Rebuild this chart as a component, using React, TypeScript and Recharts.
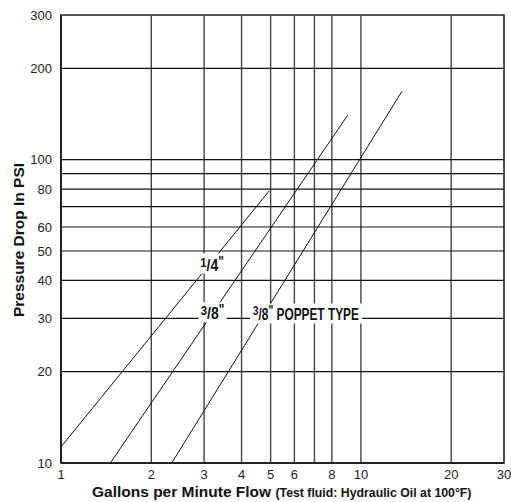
import React from 'react';
import { LineChart, Line, XAxis, YAxis, ReferenceLine, ReferenceArea, ReferenceDot, Label } from 'recharts';

// log-log pressure drop curves
const quarterInch = [
  { x: 1, y: 11.3 },
  { x: 4.95, y: 79 },
];
const threeEighths = [
  { x: 1.46, y: 10 },
  { x: 9.03, y: 140 },
];
const poppet = [
  { x: 2.34, y: 10 },
  { x: 13.7, y: 168 },
];

const xTicks = [1, 2, 3, 4, 5, 6, 8, 10, 20, 30];
const yTicks = [10, 20, 30, 40, 50, 60, 80, 100, 200, 300];
const xGrid = [2, 3, 4, 5, 6, 7, 8, 10, 20];
const yGrid = [20, 30, 40, 50, 60, 70, 80, 90, 100, 200];

const TICK_FONT = "'Liberation Sans Narrow', 'Arial Narrow', 'Liberation Sans', Arial, sans-serif";
const TITLE_FONT = "'Liberation Sans', Arial, sans-serif";

// white-backed curve label: superscript numerator, /denominator, inch mark, then optional text
const makeLabel = (num: string, den: string, rest: string, boxW: number, sx: number, base: number) => (props: any) => {
  const { cx, cy } = props;
  return (
    <g>
      <rect x={cx - boxW / 2} y={cy - 10} width={boxW} height={20} fill="#fff" />
      <g transform={`translate(${cx} ${cy + base}) scale(${sx} 1)`}>
        <text x={0} y={0} textAnchor="middle" fontFamily={TITLE_FONT} fontWeight="bold" fontSize={16.5} fill="#111">
          <tspan dy={-4.5} fontSize={13.5}>{num}</tspan>
          <tspan dy={4.5}>/{den}</tspan>
          <tspan dy={-5} fontSize={14}>"</tspan>
          {rest ? <tspan dy={5}>{rest}</tspan> : null}
        </text>
      </g>
    </g>
  );
};

const App = () => (
  <div style={{ position: 'absolute', left: 0, top: 0 }}>
    <LineChart width={511} height={502} margin={{ top: 15, right: 7, bottom: 0, left: 0 }}>
      <XAxis
        type="number"
        dataKey="x"
        scale="log"
        domain={[1, 30]}
        ticks={xTicks}
        allowDataOverflow
        tickLine={false}
        tickSize={0}
        tickMargin={7}
        height={39}
        stroke="#222"
        strokeWidth={2}
        tick={{ fill: '#222', fontSize: 13, fontFamily: TICK_FONT }}
      >
        <Label
          content={() => (
            <text x={92} y={497} fontFamily={TITLE_FONT} fontWeight="bold" fill="#111">
              <tspan fontSize={15.5}>Gallons per Minute Flow </tspan>
              <tspan fontSize={12.3}>(Test fluid: Hydraulic Oil at 100°F)</tspan>
            </text>
          )}
        />
      </XAxis>
      <YAxis
        type="number"
        scale="log"
        domain={[10, 300]}
        ticks={yTicks}
        allowDataOverflow
        tickLine={false}
        tickSize={0}
        tickMargin={9}
        width={61}
        stroke="#222"
        strokeWidth={2}
        tick={{ fill: '#222', fontSize: 13, fontFamily: TICK_FONT }}
      >
        <Label
          content={() => (
            <text
              x={18}
              y={240}
              transform="rotate(-90 18 240)"
              textAnchor="middle"
              dominantBaseline="central"
              fontFamily={TITLE_FONT}
              fontWeight="bold"
              fontSize={15.5}
              fill="#111"
            >
              Pressure Drop In PSI
            </text>
          )}
        />
      </YAxis>
      {xGrid.map((v) => (
        <ReferenceLine key={`vx-${v}`} x={v} stroke="#444" strokeWidth={1.4} />
      ))}
      {yGrid.map((v) => (
        <ReferenceLine key={`hy-${v}`} y={v} stroke="#111" strokeWidth={1.2} />
      ))}
      <ReferenceArea x1={1} x2={30} y1={10} y2={300} fill="none" stroke="#222" strokeWidth={1.6} />
      <Line data={quarterInch} dataKey="y" stroke="#111" strokeWidth={1} dot={false} isAnimationActive={false} />
      <Line data={threeEighths} dataKey="y" stroke="#111" strokeWidth={1} dot={false} isAnimationActive={false} />
      <Line data={poppet} dataKey="y" stroke="#111" strokeWidth={1} dot={false} isAnimationActive={false} />
      <ReferenceDot x={3.19} y={45.5} r={0} shape={makeLabel('1', '4', '', 28, 0.85, 8)} />
      <ReferenceDot x={3.2} y={31.4} r={0} shape={makeLabel('3', '8', '', 28, 0.85, 7)} />
      <ReferenceDot x={6.56} y={31.1} r={0} shape={makeLabel('3', '8', ' POPPET TYPE', 112, 0.72, 6)} />
    </LineChart>
  </div>
);

export default App;
